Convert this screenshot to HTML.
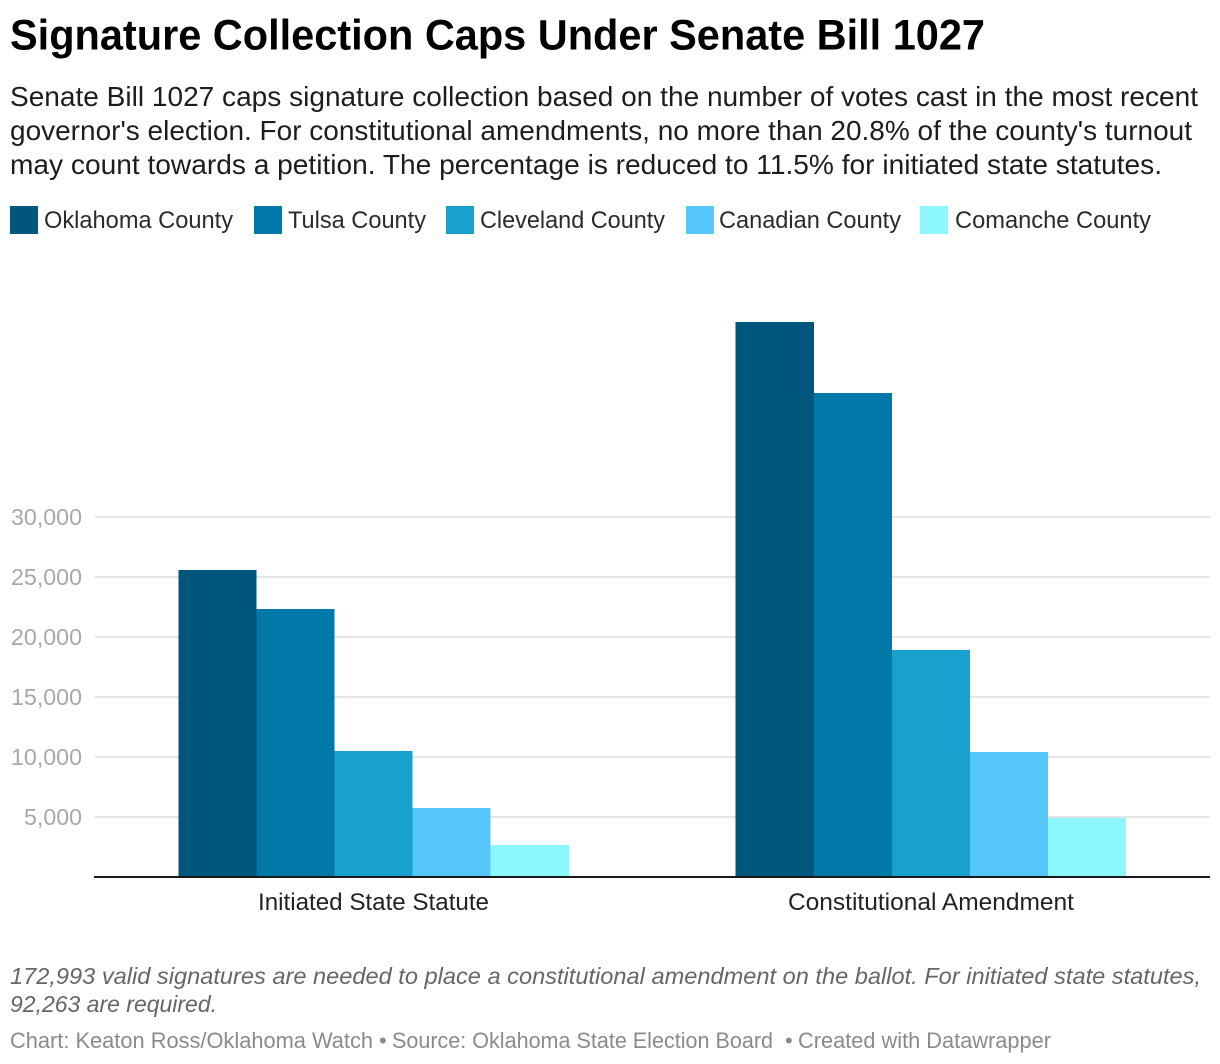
<!DOCTYPE html>
<html lang="en">
<head>
<meta charset="utf-8">
<title>Signature Collection Caps Under Senate Bill 1027</title>
<style>
html,body{margin:0;padding:0;background:#fff;}
svg{display:block;font-family:"Liberation Sans",Arial,sans-serif;}
</style>
</head>
<body>
<svg id="chart" width="1220" height="1064" viewBox="0 0 1220 1064" xmlns="http://www.w3.org/2000/svg">
  <text x="10" y="49.5" font-size="43" font-weight="700" fill="#000" textLength="975" lengthAdjust="spacingAndGlyphs">Signature Collection Caps Under Senate Bill 1027</text>
  <g font-size="27.5" fill="#1d1d1d">
    <text x="10" y="106" textLength="1188" lengthAdjust="spacingAndGlyphs">Senate Bill 1027 caps signature collection based on the number of votes cast in the most recent</text>
    <text x="10" y="140" textLength="1182" lengthAdjust="spacingAndGlyphs">governor's election. For constitutional amendments, no more than 20.8% of the county's turnout</text>
    <text x="10" y="174" textLength="1152" lengthAdjust="spacingAndGlyphs">may count towards a petition. The percentage is reduced to 11.5% for initiated state statutes.</text>
  </g>
  <g id="legend" font-size="24" fill="#2b2b2b"></g>
  <g id="grid"></g>
  <g id="bars"></g>
  <rect x="94" y="876" width="1116" height="2" fill="#1a1a1a"></rect>
  <g id="xlabels" font-size="24" fill="#222"></g>
  <g font-size="23.5" font-style="italic" fill="#666">
    <text x="10" y="984" textLength="1191" lengthAdjust="spacingAndGlyphs">172,993 valid signatures are needed to place a constitutional amendment on the ballot. For initiated state statutes,</text>
    <text x="10" y="1012" textLength="207" lengthAdjust="spacingAndGlyphs">92,263 are required.</text>
  </g>
  <g font-size="22" fill="#8a8a8a">
    <text x="10" y="1048" textLength="363" lengthAdjust="spacingAndGlyphs">Chart: Keaton Ross/Oklahoma Watch</text>
    <text x="379" y="1048">•</text>
    <text x="392" y="1048" textLength="381" lengthAdjust="spacingAndGlyphs">Source: Oklahoma State Election Board</text>
    <text x="785" y="1048">•</text>
    <text x="798" y="1048" textLength="253" lengthAdjust="spacingAndGlyphs">Created with Datawrapper</text>
  </g>
</svg>
<script>
const categories = ['Initiated State Statute', 'Constitutional Amendment'];
const seriesNames = ['Oklahoma County', 'Tulsa County', 'Cleveland County', 'Canadian County', 'Comanche County'];
const oklahomaValues = [25583, 46250];
const tulsaValues = [22333, 40333];
const clevelandValues = [10500, 18917];
const canadianValues = [5750, 10417];
const comancheValues = [2667, 4917];
const yTicks = [5000, 10000, 15000, 20000, 25000, 30000];
const seriesColors = ['#00567d', '#0079a8', '#18a1cd', '#55c8f9', '#8cf7ff'];

const NS = 'http://www.w3.org/2000/svg';
const seriesValues = [oklahomaValues, tulsaValues, clevelandValues, canadianValues, comancheValues];
const plotRight = 1210, plotBottom = 877;
const pxPerUnit = 60 / 5000;
const yScale = v => plotBottom - v * pxPerUnit;
const bandLeft = 94.78;
const bandWidth = 557.45;
const bandCenter = i => bandLeft + bandWidth * (i + 0.5);
const barWidth = 78.1;
const fmt = v => v.toLocaleString('en-US');

function svgEl(tag, attrs, parent) {
  const el = document.createElementNS(NS, tag);
  for (const k in attrs) el.setAttribute(k, attrs[k]);
  parent.appendChild(el);
  return el;
}

const gridG = document.getElementById('grid');
yTicks.forEach(function (t) {
  const y = yScale(t);
  const line = svgEl('rect', { x: 95, y: y - 1, width: plotRight - 95, height: 2, fill: '#e6e6e6' }, gridG);
  
  
  const label = svgEl('text', { x: 11, y: y + 8, 'font-size': 23, fill: '#a8a8a8', textLength: t >= 10000 ? 71 : 58, lengthAdjust: 'spacingAndGlyphs' }, gridG);
  if (t < 10000) label.setAttribute('x', 24);
  
  
  label.textContent = fmt(t);
});

const barsG = document.getElementById('bars');
categories.forEach(function (cat, c) {
  const groupLeft = bandCenter(c) - barWidth * seriesValues.length / 2;
  seriesValues.forEach(function (vals, s) {
    const top = yScale(vals[c]);
    const bar = svgEl('rect', {
      x: groupLeft + s * barWidth,
      y: top,
      width: barWidth,
      height: plotBottom - top,
      fill: seriesColors[s],
      'shape-rendering': 'crispEdges'
    }, barsG);
    
    
  });
});

const xG = document.getElementById('xlabels');
const xLabelWidths = [231, 286];
categories.forEach(function (cat, c) {
  const t = svgEl('text', {
    x: bandCenter(c) - xLabelWidths[c] / 2,
    y: 910,
    textLength: xLabelWidths[c],
    lengthAdjust: 'spacingAndGlyphs'
  }, xG);
  
  
  t.textContent = cat;
});

const legendG = document.getElementById('legend');
const swatchX = [10, 254, 446, 686, 920];
const legendTextX = [44, 288, 480, 719, 955];
const legendTextW = [189, 138, 185, 182, 196];
seriesNames.forEach(function (name, s) {
  const sw = svgEl('rect', { x: swatchX[s], y: 206, width: 28, height: 28, fill: seriesColors[s] }, legendG);
  
  
  const t = svgEl('text', { x: legendTextX[s], y: 228, textLength: legendTextW[s], lengthAdjust: 'spacingAndGlyphs' }, legendG);
  
  
  t.textContent = name;
});
</script>
</body>
</html>
